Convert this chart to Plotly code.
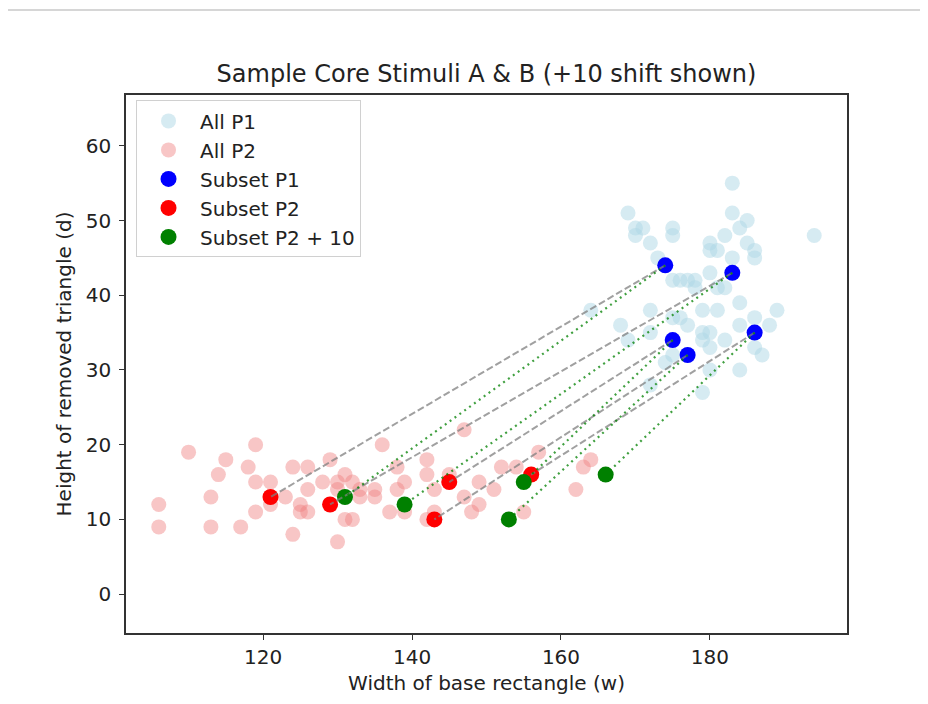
import plotly.graph_objects as go

# ---------------- data ----------------
all_p1_w = [183, 169, 183, 185, 170, 171, 170, 175, 175, 184, 172, 182, 180, 180, 181,
            185, 186, 186, 194, 173, 183, 175, 176, 177, 178, 178, 180, 181, 182, 184,
            164, 172, 179, 181, 189, 186, 188, 184, 168, 175, 176, 177, 179, 180, 169,
            172, 179, 182, 180, 186, 187, 174, 175, 180, 184, 179, 172,
            174, 183, 175, 177, 186]
all_p1_d = [55, 51, 51, 50, 49, 49, 48, 49, 48, 49, 47, 48, 47, 46, 46,
            47, 46, 45, 48, 45, 45, 42, 42, 42, 42, 41, 43, 41, 41, 39,
            38, 38, 38, 38, 38, 37, 36, 36, 36, 37, 37, 36, 35, 35, 34,
            35, 34, 34, 33, 33, 32, 31, 32, 30, 30, 27, 28,
            44, 43, 34, 32, 35]

all_p2_w = [106, 106, 110, 113, 113, 114, 115, 117, 118, 119, 119, 119, 121, 121, 121,
            123, 124, 124, 125, 125, 126, 126, 126, 128, 129, 129, 130, 130, 131, 132,
            131, 132, 130, 133, 133, 135, 135, 136, 138, 138, 139, 137, 139, 142, 142,
            143, 142, 143, 143, 145, 145, 147, 147, 148, 149, 149, 151, 152, 154, 155,
            157, 156, 162, 163, 164]
all_p2_d = [12, 9, 19, 13, 9, 16, 18, 9, 17, 20, 15, 11, 15, 12, 13,
            13, 17, 8, 12, 11, 11, 17, 14, 15, 18, 12, 15, 14, 16, 15,
            10, 10, 7, 14, 13, 14, 13, 20, 17, 14, 15, 11, 11, 18, 16,
            14, 10, 11, 10, 16, 15, 22, 13, 11, 12, 15, 14, 17, 17, 11,
            19, 16, 14, 17, 18]

subset_p1_w = [174, 183, 175, 177, 186]
subset_p1_d = [44, 43, 34, 32, 35]
subset_p2_w = [121, 129, 145, 143, 156]
subset_p2_d = [13, 12, 15, 10, 16]
shift = 10
subset_p2s_w = [w + shift for w in subset_p2_w]

x_ticks = [120, 140, 160, 180]
y_ticks = [0, 10, 20, 30, 40, 50, 60]

FONT = "DejaVu Sans"
TXT = "#222222"

fig = go.Figure()

fig.add_trace(go.Scatter(x=all_p1_w, y=all_p1_d, mode="markers", name="All P1",
                         marker=dict(color="#ADD8E6", opacity=0.5, size=15, line=dict(width=0))))
fig.add_trace(go.Scatter(x=all_p2_w, y=all_p2_d, mode="markers", name="All P2",
                         marker=dict(color="#F08080", opacity=0.45, size=15, line=dict(width=0))))
fig.add_trace(go.Scatter(x=subset_p1_w, y=subset_p1_d, mode="markers", name="Subset P1",
                         marker=dict(color="blue", size=16, line=dict(width=0))))
fig.add_trace(go.Scatter(x=subset_p2_w, y=subset_p2_d, mode="markers", name="Subset P2",
                         marker=dict(color="red", size=16, line=dict(width=0))))
fig.add_trace(go.Scatter(x=subset_p2s_w, y=subset_p2_d, mode="markers", name="Subset P2 + 10",
                         marker=dict(color="green", size=16, line=dict(width=0))))

# connecting segments
gx, gy, vx, vy = [], [], [], []
for i in range(len(subset_p1_w)):
    gx += [subset_p1_w[i], subset_p2_w[i], None]
    gy += [subset_p1_d[i], subset_p2_d[i], None]
    vx += [subset_p1_w[i], subset_p2s_w[i], None]
    vy += [subset_p1_d[i], subset_p2_d[i], None]

fig.add_trace(go.Scatter(x=gx, y=gy, mode="lines", showlegend=False, hoverinfo="skip",
                         line=dict(color="rgba(128,128,128,0.75)", width=2, dash="7px,3px")))
fig.add_trace(go.Scatter(x=vx, y=vy, mode="lines", showlegend=False, hoverinfo="skip",
                         line=dict(color="rgba(0,128,0,0.75)", width=2.2, dash="2px,4px")))

axis_common = dict(showgrid=False, zeroline=False, showline=True, mirror=True,
                   linecolor="#333333", linewidth=1.5, ticks="outside", ticklen=5,
                   tickwidth=1.2, tickcolor="#333333",
                   tickfont=dict(family=FONT, size=20, color=TXT))

fig.update_xaxes(range=[101.6, 198.4], tickvals=x_ticks,
                 title=dict(text="Width of base rectangle (w)", standoff=8,
                            font=dict(family=FONT, size=20, color=TXT)),
                 **axis_common)
fig.update_yaxes(range=[-5.2, 66.8], tickvals=y_ticks,
                 title=dict(text="Height of removed triangle (d)", standoff=9,
                            font=dict(family=FONT, size=20, color=TXT)),
                 ticklabelstandoff=4,
                 **axis_common)

# page body has an 8px margin, so the figure is 8px smaller and margins shifted
fig.update_layout(
    width=920, height=696,
    margin=dict(l=118, r=81, t=87, b=71),
    paper_bgcolor="white", plot_bgcolor="white",
    title=dict(text="Sample Core Stimuli A & B (+10 shift shown)",
               x=(118 + 839) / 2 / 920, xanchor="center",
               y=1 - 66 / 696, yref="container", yanchor="middle",
               font=dict(family=FONT, size=24, color=TXT)),
    legend=dict(x=0.0139, y=0.99, xanchor="left", yanchor="top",
                bgcolor="rgba(255,255,255,0.8)", bordercolor="#d0d0d0", borderwidth=1,
                font=dict(family=FONT, size=20, color=TXT),
                itemsizing="trace", itemwidth=53),
    showlegend=True,
)

# thin grey rule at the very top of the page (screenshot border)
fig.add_shape(type="line", xref="paper", yref="paper",
              x0=-118 / 721, x1=(920 - 118) / 721,
              y0=1 + (87 - 2) / 538, y1=1 + (87 - 2) / 538,
              line=dict(color="#c8c8c8", width=1.5))

fig.write_html("out.html")
